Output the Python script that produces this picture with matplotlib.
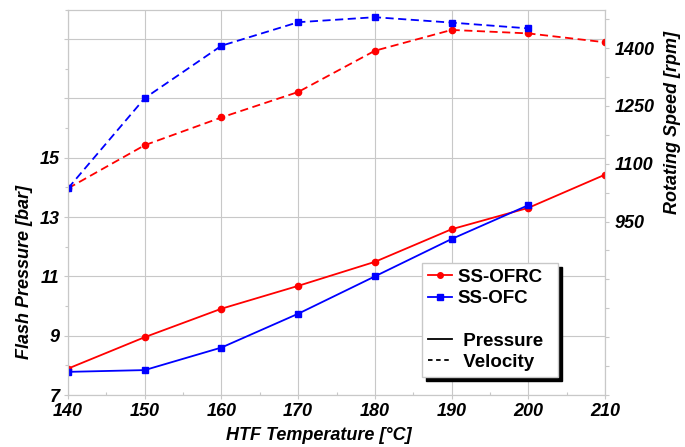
import matplotlib
matplotlib.use("Agg")
import matplotlib.pyplot as plt
from matplotlib.lines import Line2D
from matplotlib.ticker import MultipleLocator

temps = [140, 150, 160, 170, 180, 190, 200, 210]
temps_ofc = [140, 150, 160, 170, 180, 190, 200]

pres_ofrc = [7.89, 8.95, 9.91, 10.68, 11.49, 12.59, 13.31, 14.43]
pres_ofc = [7.78, 7.84, 8.60, 9.74, 11.00, 12.26, 13.40]

speed_ofrc = [1036, 1148, 1220, 1286, 1393, 1447, 1438, 1415]
speed_ofc = [1036, 1270, 1406, 1467, 1480, 1466, 1451]

plt.rcParams['font.family'] = ['Liberation Sans', 'DejaVu Sans']

fig = plt.figure(figsize=(6.85, 4.47), dpi=100)
ax = fig.add_axes([68 / 685, 1 - 395 / 447, 537 / 685, 385.5 / 447])
ax2 = ax.twinx()

gray = '#c8c8c8'
dash = (0, (4.5, 2.5))

ax.plot(temps, pres_ofrc, color='#ff0000', lw=1.3, marker='o', ms=4.5)
ax.plot(temps_ofc, pres_ofc, color='#0000ff', lw=1.3, marker='s', ms=4.5)
ax2.plot(temps, speed_ofrc, color='#ff0000', lw=1.3, ls=dash, marker='o', ms=4.5)
ax2.plot(temps_ofc, speed_ofc, color='#0000ff', lw=1.3, ls=dash, marker='s', ms=4.5)

ax.set_xlim(140, 210)
ax.set_ylim(7, 20)
ax2.set_ylim(500, 1500)

tick_font = dict(fontsize=13, fontweight='bold', fontstyle='italic')

ax.set_xticks(range(140, 211, 10))
ax.set_xticklabels([str(t) for t in range(140, 211, 10)], **tick_font)
ax.xaxis.set_minor_locator(MultipleLocator(5))

left_ticks = list(range(7, 20, 2))
ax.set_yticks(left_ticks)
ax.set_yticklabels([str(v) if v <= 15 else '' for v in left_ticks], **tick_font)
ax.yaxis.set_minor_locator(MultipleLocator(1))

right_ticks = list(range(500, 1500, 75))
ax2.set_yticks(right_ticks)
ax2.set_yticklabels([str(v) if v in (950, 1100, 1250, 1400) else '' for v in right_ticks], **tick_font)

ax.grid(True, which='major', color=gray, lw=0.8)
ax.set_axisbelow(True)

for a in (ax, ax2):
    for s in a.spines.values():
        s.set_color(gray)
    a.tick_params(which='both', color=gray, length=3, width=0.8)
ax.tick_params(axis='y', which='minor', length=2)
ax.tick_params(axis='x', which='minor', direction='in', length=2)
ax.tick_params(axis='x', pad=3)
ax.tick_params(axis='y', pad=3)
ax2.tick_params(axis='y', pad=4)

label_font = dict(fontsize=13, fontweight='bold', fontstyle='italic')
ax.set_xlabel('HTF Temperature [°C]', **label_font)
ax.xaxis.set_label_coords(0.467, -0.083)
ax.set_ylabel('Flash Pressure [bar]', **label_font)
ax.yaxis.set_label_coords(-0.066, 0.319)
ax2.set_ylabel('Rotating Speed [rpm]', **label_font)
ax2.yaxis.set_label_coords(1.110, 0.708)

# legenda: cores das series + tipo de linha
handles = [
    Line2D([], [], color='#ff0000', lw=1.3, marker='o', ms=4),
    Line2D([], [], color='#0000ff', lw=1.3, marker='s', ms=4),
    Line2D([], [], color='none'),
    Line2D([], [], color='black', lw=1.3),
    Line2D([], [], color='black', lw=1.3, ls=(0, (2.5, 2))),
]
labels = ['SS-OFRC  ', 'SS-OFC', '', ' Pressure', ' Velocity']
ax2.legend(handles, labels, loc='upper left', bbox_to_anchor=(0.659, 0.342),
           borderaxespad=0, fancybox=False, framealpha=1,
           edgecolor=gray, handlelength=1.3, handletextpad=0.3,
           labelspacing=0.22, borderpad=0.3,
           prop=dict(family='Liberation Sans', weight='bold', size=13.5),
           shadow={'color': 'black', 'alpha': 1, 'ox': 3, 'oy': -3})

fig.savefig('out.png', dpi=100)
